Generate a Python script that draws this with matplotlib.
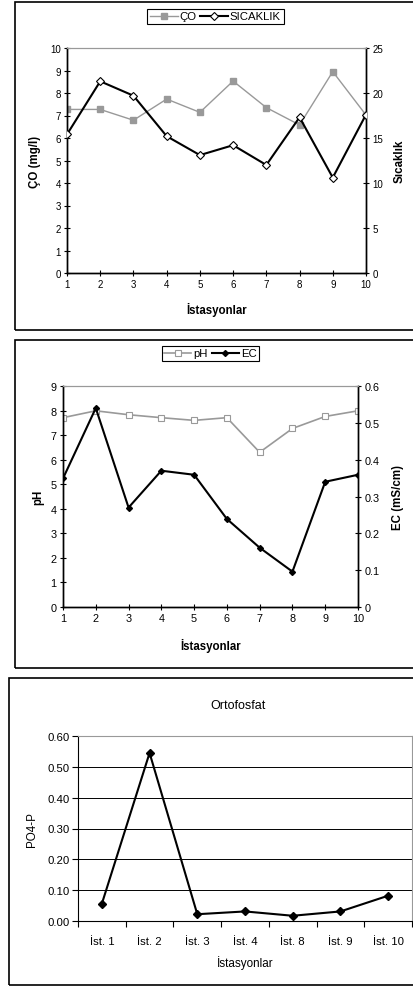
import matplotlib
matplotlib.use("Agg")
import matplotlib.pyplot as plt
from matplotlib.patches import Rectangle

plt.rcParams['font.family'] = ['Liberation Sans', 'DejaVu Sans']

# panel 1: dissolved oxygen / temperature
stations = [1, 2, 3, 4, 5, 6, 7, 8, 9, 10]
co = [7.27, 7.27, 6.79, 7.73, 7.14, 8.53, 7.35, 6.58, 8.95, 7.02]
sicaklik = [15.4, 21.3, 19.7, 15.2, 13.1, 14.2, 12.0, 17.3, 10.6, 17.6]

# panel 2: pH / EC
ph = [7.71, 7.99, 7.83, 7.71, 7.60, 7.71, 6.30, 7.27, 7.76, 7.99]
ec = [0.349, 0.540, 0.270, 0.370, 0.359, 0.239, 0.161, 0.096, 0.340, 0.359]
ec_ticks = [0, 0.1, 0.2, 0.3, 0.4, 0.5, 0.6]
ec_ticklabels = ["0", "0.1", "0.2", "0.3", "0.4", "0.5", "0.6"]

# panel 3: orthophosphate
po4_stations = ["İst. 1", "İst. 2", "İst. 3", "İst. 4", "İst. 8", "İst. 9", "İst. 10"]
po4 = [0.056, 0.545, 0.022, 0.031, 0.017, 0.031, 0.082]
po4_ticks = [0, 0.1, 0.2, 0.3, 0.4, 0.5, 0.6]

W, H = 413, 987
fig = plt.figure(figsize=(W / 100, H / 100), dpi=100)


def box(l, r, t, b):
    return [l / W, 1 - b / H, (r - l) / W, (b - t) / H]


def frame(l, r, t, b):
    fig.add_artist(Rectangle((l / W, 1 - b / H), (r - l) / W, (b - t) / H,
                             transform=fig.transFigure, fill=False,
                             lw=1.2, edgecolor="black", clip_on=False))


def place_ylabel(ax, xpix):
    pos = ax.get_position()
    ax.yaxis.label.set_va("center")
    ax.yaxis.label.set_ha("center")
    ax.yaxis.set_label_coords((xpix / W - pos.x0) / pos.width, 0.5)


def place_xlabel(ax, ypix):
    pos = ax.get_position()
    ax.xaxis.label.set_va("center")
    ax.xaxis.set_label_coords(0.5, ((1 - ypix / H) - pos.y0) / pos.height)


frame(15, 430, 3, 331)
frame(15, 430, 341, 669)
frame(9, 430, 679, 986)

# ---------- panel 1 ----------
ax1 = fig.add_axes(box(67, 366, 49, 274))
ax1b = ax1.twinx()
l1, = ax1.plot(stations, co, color="#999999", lw=1, marker="s", ms=4.5,
               mfc="#999999", mec="#999999", zorder=2)
l2, = ax1b.plot(stations, sicaklik, color="black", lw=1.5, marker="D", ms=4,
                mfc="white", mec="black", mew=0.8, zorder=3)
ax1.set_xlim(1, 10)
ax1.set_ylim(0, 10)
ax1b.set_ylim(0, 25)
ax1.set_xticks(stations)
ax1.set_yticks(range(0, 11))
ax1b.set_yticks(range(0, 26, 5))
for a in (ax1, ax1b):
    a.tick_params(direction="inout", length=5, width=0.8, labelsize=7, pad=2)
    a.spines["top"].set_color("#999999")
    for s in ("left", "right", "bottom"):
        a.spines[s].set_linewidth(1)
ax1.set_ylabel("ÇO (mg/l)", fontsize=8.3, fontweight="bold")
place_ylabel(ax1, 35)
ax1b.set_ylabel("Sıcaklık", fontsize=8.3, fontweight="bold", rotation=90)
place_ylabel(ax1b, 400)
ax1.set_xlabel("İstasyonlar", fontsize=8.3, fontweight="bold")
place_xlabel(ax1, 310)
leg = fig.legend([l1, l2], ["ÇO", "SICAKLIK"], loc="center",
                 bbox_to_anchor=(215.5 / W, 1 - 17.5 / H), ncol=2,
                 fancybox=False, edgecolor="black", framealpha=1,
                 fontsize=8.2, handlelength=2.4, handletextpad=0.2,
                 columnspacing=0.3, borderpad=0.25, borderaxespad=0)
leg.get_frame().set_linewidth(0.8)

# ---------- panel 2 ----------
ax2 = fig.add_axes(box(63, 358, 387, 608))
ax2b = ax2.twinx()
l3, = ax2.plot(stations, ph, color="#999999", lw=1.2, marker="s", ms=3.8,
               mfc="white", mec="#999999", mew=0.8, zorder=2)
l4, = ax2b.plot(stations, ec, color="black", lw=1.5, marker="D", ms=3,
                mfc="black", mec="black", zorder=3)
ax2.set_xlim(1, 10)
ax2.set_ylim(0, 9)
ax2b.set_ylim(0, 0.6)
ax2.set_xticks(stations)
ax2.set_yticks(range(0, 10))
ax2b.set_yticks(ec_ticks)
ax2b.set_yticklabels(ec_ticklabels)
for a in (ax2, ax2b):
    a.tick_params(direction="inout", length=5, width=0.8, labelsize=7.8, pad=2)
    a.spines["top"].set_color("#999999")
    for s in ("left", "right", "bottom"):
        a.spines[s].set_linewidth(1)
ax2.set_ylabel("pH", fontsize=8.3, fontweight="bold")
place_ylabel(ax2, 38)
ax2b.set_ylabel("EC (mS/cm)", fontsize=8.3, fontweight="bold", rotation=90)
place_ylabel(ax2b, 398)
ax2.set_xlabel("İstasyonlar", fontsize=8.3, fontweight="bold")
place_xlabel(ax2, 646)
leg2 = fig.legend([l3, l4], ["pH", "EC"], loc="center",
                  bbox_to_anchor=(210.5 / W, 1 - 354.5 / H), ncol=2,
                  fancybox=False, edgecolor="black", framealpha=1,
                  fontsize=8.2, handlelength=2.4, handletextpad=0.2,
                  columnspacing=0.3, borderpad=0.2, borderaxespad=0)
leg2.get_frame().set_linewidth(0.8)

# ---------- panel 3 ----------
ax3 = fig.add_axes(box(78, 412, 737, 922))
xs = list(range(len(po4_stations)))
ax3.plot(xs, po4, color="black", lw=1.5, marker="D", ms=4, zorder=3)
ax3.set_xlim(-0.5, len(po4_stations) - 0.5)
ax3.set_ylim(0, 0.6)
ax3.set_yticks(po4_ticks)
ax3.set_yticklabels(["%.2f" % v for v in po4_ticks])
ax3.set_xticks(xs)
ax3.set_xticklabels(po4_stations)
ax3.set_xticks([x + 0.5 for x in xs] + [-0.5], minor=True)
ax3.tick_params(axis="x", which="major", length=0, labelsize=8.2, pad=11)
ax3.tick_params(axis="x", which="minor", direction="out", length=4, width=0.8)
ax3.tick_params(axis="y", direction="out", length=4, width=0.8,
                labelsize=8.2, pad=2)
ax3.grid(axis="y", color="black", lw=0.7)
ax3.set_axisbelow(True)
ax3.spines["top"].set_color("#999999")
ax3.spines["right"].set_color("#999999")
ax3.set_title("Ortofosfat", fontsize=9, y=1 + (737 - 706) / 185, va="center",
              x=0.48, pad=0)
ax3.set_ylabel("PO4-P", fontsize=8.4)
place_ylabel(ax3, 32)
ax3.set_xlabel("İstasyonlar", fontsize=8.4)
place_xlabel(ax3, 963)

fig.savefig("out.png", dpi=100)
